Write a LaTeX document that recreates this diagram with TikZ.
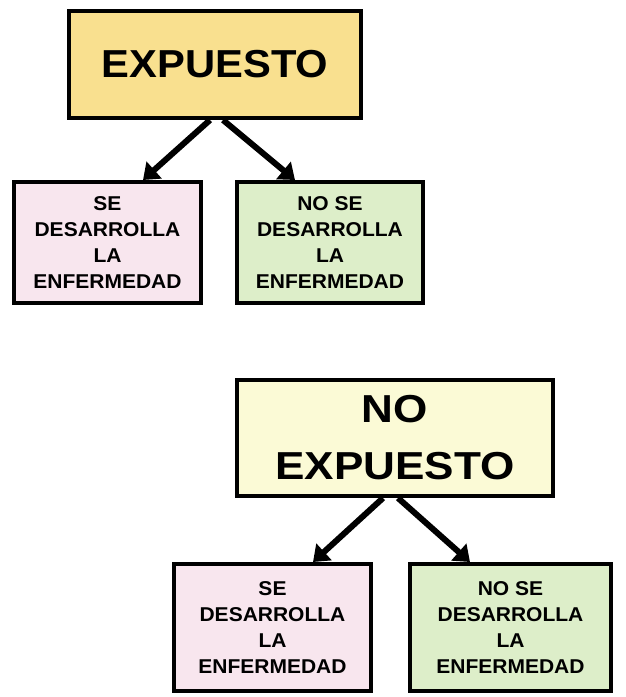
\documentclass[tikz,border=0pt]{standalone}
\usepackage{fontspec}
\usetikzlibrary{arrows.meta}
\newfontfamily\smallf[FakeStretch=1.05]{Liberation Sans}
\newfontfamily\bigfa[FakeStretch=1.07]{Liberation Sans}
\newfontfamily\bigfb[FakeStretch=1.13]{Liberation Sans}
\definecolor{cyel}{HTML}{F9E08F}
\definecolor{ccream}{HTML}{FBFAD6}
\definecolor{cpink}{HTML}{F8E6EE}
\definecolor{cgreen}{HTML}{DDEEC9}
\tikzset{
  box/.style={draw=black, line width=4pt, rectangle, align=center, inner sep=0pt},
  smallbox/.style={box, font=\smallf\bfseries\fontsize{20}{25.7}\selectfont},
  arr/.style={line width=6pt, -{Triangle[length=15pt,width=22pt]}},
}
\begin{document}
\begin{tikzpicture}[x=1pt,y=-1pt]
\useasboundingbox (0,0) rectangle (625,697);
\node[box, fill=cyel, minimum width=292pt, minimum height=107pt,
      font=\bigfa\bfseries\fontsize{39}{57}\selectfont] (t1) at (215,64.5) {EXPUESTO};
\node[smallbox, fill=cpink, minimum width=187pt, minimum height=121pt] (l1) at (107.5,242.5)
  {SE\\DESARROLLA\\LA\\ENFERMEDAD};
\node[smallbox, fill=cgreen, minimum width=186pt, minimum height=121pt] (r1) at (330,242.5)
  {NO SE\\DESARROLLA\\LA\\ENFERMEDAD};
\draw[arr] ([xshift=-5pt]t1.south) -- ([xshift=35.5pt]l1.north);
\draw[arr] ([xshift=8pt]t1.south) -- ([xshift=-35pt]r1.north);

\node[box, fill=ccream, minimum width=316pt, minimum height=116pt,
      font=\bigfb\bfseries\fontsize{39}{57}\selectfont] (t2) at (395,438) {NO\\EXPUESTO};
\node[smallbox, fill=cpink, minimum width=197pt, minimum height=127pt] (l2) at (272.5,627.5)
  {SE\\DESARROLLA\\LA\\ENFERMEDAD};
\node[smallbox, fill=cgreen, minimum width=201pt, minimum height=127pt] (r2) at (510.5,627.5)
  {NO SE\\DESARROLLA\\LA\\ENFERMEDAD};
\draw[arr] ([xshift=-12pt]t2.south) -- ([xshift=40.5pt]l2.north);
\draw[arr] ([xshift=3pt]t2.south) -- ([xshift=-40.5pt]r2.north);
\end{tikzpicture}
\end{document}
